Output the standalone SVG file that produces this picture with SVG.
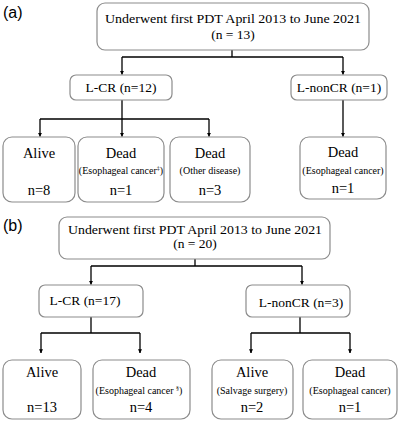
<svg xmlns="http://www.w3.org/2000/svg" width="400" height="421" viewBox="0 0 400 421">
<style>
.box{fill:#fff;stroke:#8c8c8c;stroke-width:1.2}
.t{fill:#000;text-anchor:middle}
.big{font-size:14.5px}
.mid{font-size:13.5px}
.sm{font-size:10px}
.lab{font-family:'Liberation Sans',Arial,sans-serif;font-size:16px;fill:#000}
.c{fill:none;stroke:#000;stroke-width:1.3}
</style>
<defs>
<marker id="ah" viewBox="0 0 6 6" refX="5.5" refY="3" markerWidth="4" markerHeight="4" orient="auto" markerUnits="userSpaceOnUse">
<path d="M0,0 L6,3 L0,6 z" fill="#000"/>
</marker>
</defs>
<rect width="400" height="421" fill="#fff"/>
<text class="lab" x="3" y="18">(a)</text>
<text class="lab" x="3" y="231">(b)</text>
<g id="connectors">
<path class="c" d="M232,50 V57 M122,57 H343"/>
<path class="c" d="M122,57 V74.5" marker-end="url(#ah)"/>
<path class="c" d="M343,57 V74.5" marker-end="url(#ah)"/>
<path class="c" d="M122,100 V119 M40,119 H209"/>
<path class="c" d="M40,119 V136.5" marker-end="url(#ah)"/>
<path class="c" d="M122,119 V136.5" marker-end="url(#ah)"/>
<path class="c" d="M209,119 V136.5" marker-end="url(#ah)"/>
<path class="c" d="M343,100 V136.5" marker-end="url(#ah)"/>
<path class="c" d="M195,259 V266 M91,266 H302"/>
<path class="c" d="M91,266 V284.5" marker-end="url(#ah)"/>
<path class="c" d="M302,266 V284.5" marker-end="url(#ah)"/>
<path class="c" d="M91,317 V333 M41,333 H140"/>
<path class="c" d="M41,333 V353" marker-end="url(#ah)"/>
<path class="c" d="M140,333 V353" marker-end="url(#ah)"/>
<path class="c" d="M300,317 V333 M251,333 H350"/>
<path class="c" d="M251,333 V353" marker-end="url(#ah)"/>
<path class="c" d="M350,333 V353" marker-end="url(#ah)"/>
</g>
<g font-family="'Liberation Serif','Times New Roman',Tinos,'Noto Serif','DejaVu Serif',serif">
<g id="a-top"><rect class="box" x="97" y="3" width="272" height="47" rx="8"/>
<text class="t mid" x="233" y="23" textLength="256" lengthAdjust="spacingAndGlyphs">Underwent first PDT April 2013 to June 2021</text>
<text class="t mid" x="233" y="39">(n = 13)</text></g>
<g id="a-lcr"><rect class="box" x="70" y="75" width="102" height="25" rx="6"/>
<text class="t mid" x="121" y="92">L-CR (n=12)</text></g>
<g id="a-lnoncr"><rect class="box" x="291" y="75" width="96" height="25" rx="6"/>
<text class="t mid" x="339" y="92">L-nonCR (n=1)</text></g>
<g id="a-alive"><rect class="box" x="3" y="137" width="72" height="65" rx="9"/>
<text class="t big" x="39" y="158">Alive</text>
<text class="t big" x="39" y="195">n=8</text></g>
<g id="a-dead1"><rect class="box" x="78" y="137" width="86" height="65" rx="9"/>
<text class="t big" x="121" y="158">Dead</text>
<text class="t sm" x="121" y="174">(Esophageal cancer<tspan font-size="6" baseline-shift="4">‡</tspan>)</text>
<text class="t big" x="121" y="195">n=1</text></g>
<g id="a-dead2"><rect class="box" x="170" y="137" width="80" height="65" rx="9"/>
<text class="t big" x="210" y="158">Dead</text>
<text class="t sm" x="210" y="174">(Other disease)</text>
<text class="t big" x="210" y="195">n=3</text></g>
<g id="a-dead3"><rect class="box" x="300" y="137" width="86" height="62" rx="9"/>
<text class="t big" x="343" y="157">Dead</text>
<text class="t sm" x="343" y="174" font-size="10.2">(Esophageal cancer)</text>
<text class="t big" x="343" y="193">n=1</text></g>
<g id="b-top"><rect class="box" x="59" y="217" width="271" height="42" rx="8"/>
<text class="t mid" x="195" y="234" textLength="254" lengthAdjust="spacingAndGlyphs">Underwent first PDT April 2013 to June 2021</text>
<text class="t mid" x="195" y="248">(n = 20)</text></g>
<g id="b-lcr"><rect class="box" x="39" y="285" width="104" height="32" rx="6"/>
<text class="t mid" x="85" y="305">L-CR (n=17)</text></g>
<g id="b-lnoncr"><rect class="box" x="246" y="285" width="104" height="32" rx="6"/>
<text class="t mid" x="301" y="307">L-nonCR (n=3)</text></g>
<g id="b-alive"><rect class="box" x="3" y="360" width="78" height="59" rx="9"/>
<text class="t big" x="42" y="377">Alive</text>
<text class="t big" x="42" y="412">n=13</text></g>
<g id="b-dead"><rect class="box" x="93" y="360" width="97" height="59" rx="9"/>
<text class="t big" x="141" y="377">Dead</text>
<text class="t sm" x="139" y="394">(Esophageal cancer <tspan font-size="6" baseline-shift="4">§</tspan>)</text>
<text class="t big" x="141" y="412">n=4</text></g>
<g id="b-alive2"><rect class="box" x="212" y="360" width="81" height="59" rx="9"/>
<text class="t big" x="252" y="377">Alive</text>
<text class="t sm" x="252" y="394">(Salvage surgery)</text>
<text class="t big" x="252" y="412">n=2</text></g>
<g id="b-dead2"><rect class="box" x="303" y="360" width="94" height="59" rx="9"/>
<text class="t big" x="350" y="377">Dead</text>
<text class="t sm" x="350" y="394">(Esophageal cancer)</text>
<text class="t big" x="350" y="412">n=1</text></g>
</g>
</svg>
